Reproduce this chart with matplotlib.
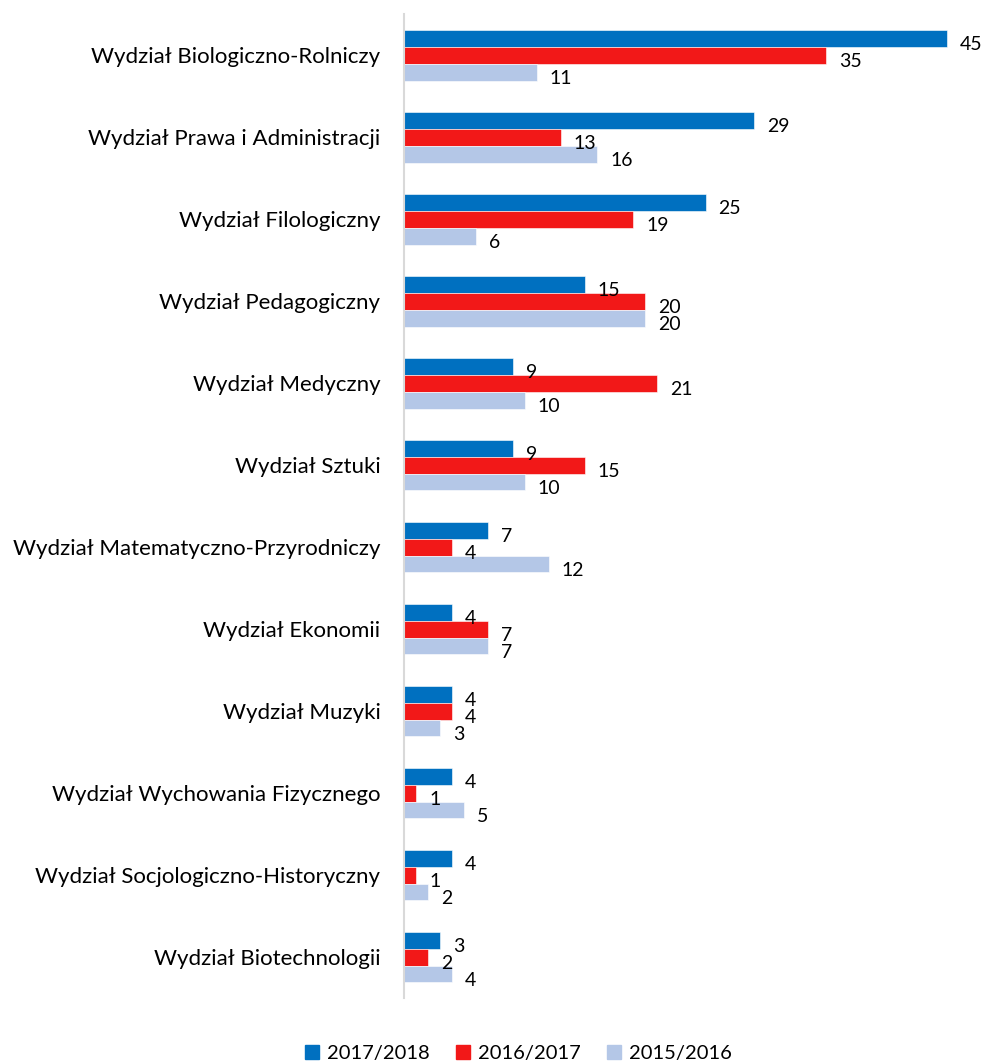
import matplotlib
matplotlib.use("Agg")
import matplotlib.pyplot as plt
from matplotlib.patches import Patch

categories = [
    "Wydział Biologiczno-Rolniczy",
    "Wydział Prawa i Administracji",
    "Wydział Filologiczny",
    "Wydział Pedagogiczny",
    "Wydział Medyczny",
    "Wydział Sztuki",
    "Wydział Matematyczno-Przyrodniczy",
    "Wydział Ekonomii",
    "Wydział Muzyki",
    "Wydział Wychowania Fizycznego",
    "Wydział Socjologiczno-Historyczny",
    "Wydział Biotechnologii",
]
series_names = ["2017/2018", "2016/2017", "2015/2016"]
v2017 = [45, 29, 25, 15, 9, 9, 7, 4, 4, 4, 4, 3]
v2016 = [35, 13, 19, 20, 21, 15, 4, 7, 4, 1, 1, 2]
v2015 = [11, 16, 6, 20, 10, 10, 12, 7, 3, 5, 2, 4]
colors = ["#0070C0", "#F21818", "#B4C7E7"]

plt.rcParams['font.family'] = ['Lato', 'DejaVu Sans']

fig = plt.figure(figsize=(9.88, 10.64), dpi=100)
ax = fig.add_axes([0.4089, 0.062, 0.586, 0.9248])

h = 0.207
series = [v2017, v2016, v2015]
for k, (vals, col) in enumerate(zip(series, colors)):
    ys = [i + (k - 1) * h for i in range(len(categories))]
    ax.barh(ys, vals, height=h, color=col, edgecolor='white', linewidth=0.4)
    for y, v in zip(ys, vals):
        ax.annotate(str(v), (v, y), xytext=(13, -6), textcoords='offset pixels',
                    ha='left', va='center', fontsize=14, color='#000000')

ax.set_xlim(0, 48)
ax.set_ylim(len(categories) - 0.5, -0.5)
ax.set_yticks(range(len(categories)))
ax.set_yticklabels(categories, fontsize=16, color='#000000')
ax.tick_params(axis='y', length=0, pad=17)
ax.set_xticks([])
for s in ['top', 'right', 'bottom']:
    ax.spines[s].set_visible(False)
ax.spines['left'].set_color('#D9D9D9')
ax.spines['left'].set_linewidth(1.5)

handles = [Patch(color=c, label=n) for c, n in zip(colors, series_names)]
fig.legend(handles=handles, loc='center', bbox_to_anchor=(0.525, 0.01), ncol=3,
           frameon=False, fontsize=14.5, handlelength=0.7, handleheight=0.7,
           handletextpad=0.4, columnspacing=1.3)

fig.savefig("out.png", dpi=100)
